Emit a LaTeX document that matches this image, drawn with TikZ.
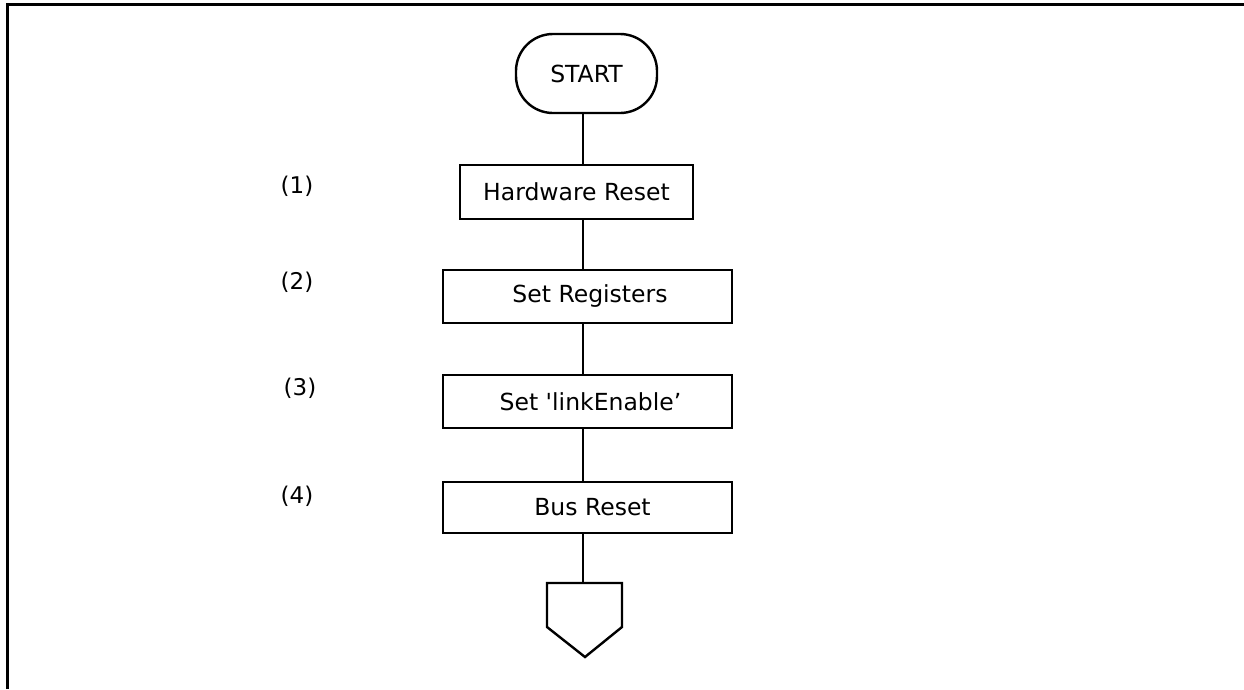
\documentclass[tikz,border=0pt]{standalone}
\usepackage{fontspec}
\setmainfont{DejaVu Sans}
\begin{document}
\begin{tikzpicture}[x=1pt,y=-1pt,
  line width=2.4pt,
  every node/.style={font=\fontsize{23.5}{28}\selectfont, inner sep=0pt},
  procbox/.style={draw, rectangle, minimum height=53pt},
  termbox/.style={draw, rectangle, rounded corners=37pt, minimum width=141pt, minimum height=79pt},
  steplabel/.style={font=\fontsize{23}{27}\selectfont}]
\useasboundingbox (0,0) rectangle (1244,689);
% frame (only top and left edges visible)
\draw[line width=3pt] (7,689) -- (7,4.5) -- (1244,4.5);

\node[termbox] (start) at (586.5,73.5) {START};
\node[procbox, minimum width=233pt, minimum height=54pt] (hr) at (576.5,192) {Hardware Reset};
\node[procbox, minimum width=289pt] (sr) at (587.5,296.5) {\hspace{5pt}Set Registers};
\node[procbox, minimum width=289pt] (le) at (587.5,401.5) {\hspace{6pt}Set \textquotesingle linkEnable'};
\node[procbox, minimum width=289pt, minimum height=51pt] (br) at (587.5,507.5) {\hspace{10pt}Bus Reset};

\node[steplabel] (l1) at (297,186) {(1)};
\node[steplabel] (l2) at (297,282) {(2)};
\node[steplabel] (l3) at (300,388) {(3)};
\node[steplabel] (l4) at (297,496) {(4)};

\coordinate (col) at (583,0);
\coordinate (endc) at (583,583);
\draw (col |- start.south) -- (col |- hr.north);
\draw (col |- hr.south) -- (col |- sr.north);
\draw (col |- sr.south) -- (col |- le.north);
\draw (col |- le.south) -- (col |- br.north);
\draw (col |- br.south) -- (endc);
% off-page connector
\draw[line join=miter] (547,583) -- (622,583) -- (622,627) -- (585,657) -- (547,627) -- cycle;
\end{tikzpicture}
\end{document}
